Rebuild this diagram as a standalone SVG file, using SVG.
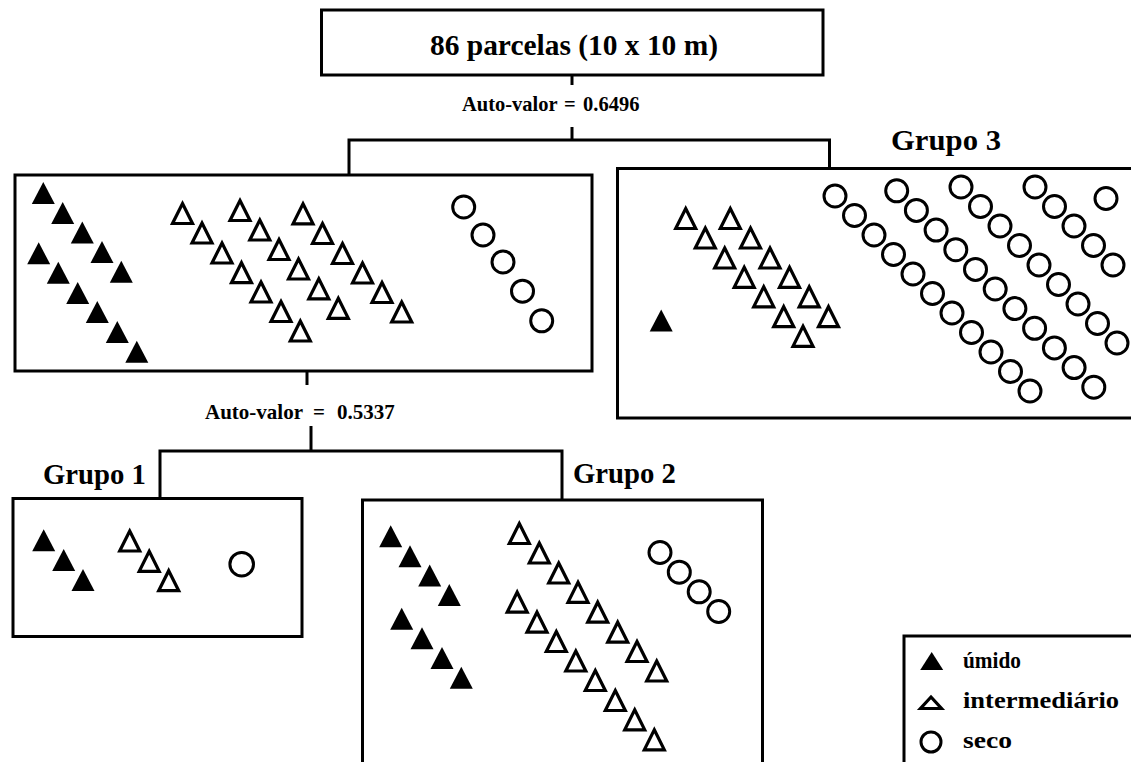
<svg xmlns="http://www.w3.org/2000/svg" xmlns:xlink="http://www.w3.org/1999/xlink" width="1131" height="762" viewBox="0 0 1131 762">
<style>
.box{fill:#fff;stroke:#000;stroke-width:3}
.ln{stroke:#000;stroke-width:3;fill:none}
.ft{fill:#000}
.ot{fill:none;stroke:#000;stroke-width:3.2;stroke-linejoin:miter}
.c{fill:none;stroke:#000;stroke-width:3}
.t{font-family:"Liberation Serif","Times New Roman",serif;font-weight:bold;fill:#000}
</style>
<defs>
<polygon id="ft" class="ft" points="0,-11 11.5,11 -11.5,11"/>
<polygon id="ot" class="ot" points="0,-9 10,11 -10,11"/>
<circle id="c" class="c" r="11"/>
</defs>
<rect width="1131" height="762" fill="#fff"/>
<g id="connectors">
<line class="ln" x1="572" y1="75" x2="572" y2="85"/>
<line class="ln" x1="572" y1="127" x2="572" y2="140"/>
<polyline class="ln" points="349,175 349,140 829.5,140 829.5,168"/>
<line class="ln" x1="307" y1="371" x2="307" y2="385"/>
<line class="ln" x1="311" y1="426" x2="311" y2="451"/>
<polyline class="ln" points="160,498.5 160,451 562,451 562,500"/>
<text class="t" font-size="20.5" y="111"><tspan x="462">Auto-valor</tspan><tspan x="564">=</tspan><tspan x="583">0.6496</tspan></text>
<text class="t" font-size="21" y="419"><tspan x="205">Auto-valor</tspan><tspan x="313">=</tspan><tspan x="337">0.5337</tspan></text>
</g>
<g id="root">
<rect class="box" x="321.5" y="10" width="501.5" height="65"/>
<text class="t" font-size="29.5" x="574" y="55" text-anchor="middle" textLength="288" lengthAdjust="spacingAndGlyphs">86 parcelas (10 x 10 m)</text>
</g>
<g id="grupo12">
<rect class="box" x="15" y="175" width="577" height="196"/>
<use href="#ft" x="43.3" y="193"/><use href="#ft" x="62.7" y="213"/><use href="#ft" x="82.3" y="232.5"/><use href="#ft" x="102" y="252"/><use href="#ft" x="121.3" y="271.7"/>
<use href="#ft" x="38.7" y="253.3"/><use href="#ft" x="58.3" y="272.8"/><use href="#ft" x="77.7" y="293"/><use href="#ft" x="97.3" y="312"/><use href="#ft" x="117.3" y="332"/><use href="#ft" x="136.8" y="351.7"/>
<use href="#ot" x="182.5" y="212.5"/><use href="#ot" x="202" y="232"/><use href="#ot" x="222" y="252"/><use href="#ot" x="241.5" y="271.7"/><use href="#ot" x="261" y="291"/><use href="#ot" x="281" y="310.5"/><use href="#ot" x="300.3" y="330"/>
<use href="#ot" x="240" y="209.5"/><use href="#ot" x="259.8" y="229"/><use href="#ot" x="279" y="248.5"/><use href="#ot" x="298.5" y="268"/><use href="#ot" x="318.8" y="287.8"/><use href="#ot" x="338.3" y="307.3"/>
<use href="#ot" x="303" y="212.8"/><use href="#ot" x="322.5" y="232.5"/><use href="#ot" x="342.5" y="252.5"/><use href="#ot" x="362.5" y="272"/><use href="#ot" x="382" y="291.5"/><use href="#ot" x="401.7" y="311"/>
<use href="#c" x="463.7" y="207"/><use href="#c" x="483" y="235"/><use href="#c" x="503" y="262"/><use href="#c" x="522.5" y="291.2"/><use href="#c" x="541.7" y="320.8"/>
</g>
<g id="grupo3">
<rect class="box" x="617.5" y="168.5" width="600" height="249.5"/>
<text class="t" font-size="28.7" x="891" y="150" textLength="110" lengthAdjust="spacingAndGlyphs">Grupo 3</text>
<use href="#ft" x="661.2" y="320.5"/>
<use href="#ot" x="685.7" y="217.5"/><use href="#ot" x="705.3" y="237"/><use href="#ot" x="724.7" y="257"/><use href="#ot" x="744.2" y="276.3"/><use href="#ot" x="763.7" y="295.8"/><use href="#ot" x="783.7" y="315.7"/><use href="#ot" x="803" y="335.3"/>
<use href="#ot" x="730.3" y="217.5"/><use href="#ot" x="750.5" y="237"/><use href="#ot" x="770" y="257"/><use href="#ot" x="789.5" y="276.3"/><use href="#ot" x="809.2" y="295.8"/><use href="#ot" x="828.5" y="315.7"/>
<use href="#c" x="835" y="196"/><use href="#c" x="854.5" y="215.5"/><use href="#c" x="874" y="235"/><use href="#c" x="893.5" y="254.5"/><use href="#c" x="913" y="274"/><use href="#c" x="932.5" y="293.5"/><use href="#c" x="952" y="313"/><use href="#c" x="971.5" y="332.5"/><use href="#c" x="991" y="352"/><use href="#c" x="1010.5" y="371.5"/><use href="#c" x="1030" y="391"/>
<use href="#c" x="896.7" y="190.8"/><use href="#c" x="916.4" y="210.4"/><use href="#c" x="936.1" y="230.1"/><use href="#c" x="955.8" y="249.7"/><use href="#c" x="975.5" y="269.4"/><use href="#c" x="995.2" y="289"/><use href="#c" x="1014.9" y="308.6"/><use href="#c" x="1034.6" y="328.3"/><use href="#c" x="1054.4" y="347.9"/><use href="#c" x="1074.1" y="367.6"/><use href="#c" x="1093.8" y="387.2"/>
<use href="#c" x="961" y="187"/><use href="#c" x="980.5" y="206.5"/><use href="#c" x="1000" y="226"/><use href="#c" x="1019.5" y="245.5"/><use href="#c" x="1039" y="265"/><use href="#c" x="1058.5" y="284.5"/><use href="#c" x="1078" y="304"/><use href="#c" x="1097.5" y="323.5"/><use href="#c" x="1117" y="343"/>
<use href="#c" x="1035" y="187"/><use href="#c" x="1054.5" y="206.5"/><use href="#c" x="1074" y="226"/><use href="#c" x="1093.5" y="245.5"/><use href="#c" x="1113" y="265"/>
<use href="#c" x="1106" y="198.5"/>
</g>
<g id="grupo1">
<rect class="box" x="13" y="498.5" width="289" height="138"/>
<text class="t" font-size="28.7" x="43" y="484">Grupo 1</text>
<use href="#ft" x="43.7" y="540.2"/><use href="#ft" x="63.7" y="560"/><use href="#ft" x="83" y="580"/>
<use href="#ot" x="129.7" y="540"/><use href="#ot" x="149.2" y="560.3"/><use href="#ot" x="168.7" y="579.7"/>
<circle class="c" cx="241.7" cy="564.2" r="11.8"/>
</g>
<g id="grupo2">
<rect class="box" x="362.5" y="500" width="400" height="300"/>
<text class="t" font-size="28.7" x="573" y="483">Grupo 2</text>
<use href="#ft" x="390.7" y="536.2"/><use href="#ft" x="410" y="556.2"/><use href="#ft" x="429.7" y="575.5"/><use href="#ft" x="449.3" y="595"/>
<use href="#ft" x="401.7" y="618.7"/><use href="#ft" x="422" y="638.3"/><use href="#ft" x="442" y="658"/><use href="#ft" x="461.3" y="677.8"/>
<use href="#ot" x="519.3" y="532.5"/><use href="#ot" x="539.3" y="552"/><use href="#ot" x="558.7" y="572"/><use href="#ot" x="578" y="591.3"/><use href="#ot" x="597.7" y="611.2"/><use href="#ot" x="617.7" y="631.2"/><use href="#ot" x="637" y="650.5"/><use href="#ot" x="656.7" y="670"/>
<use href="#ot" x="517.2" y="601.2"/><use href="#ot" x="537" y="621.2"/><use href="#ot" x="556.3" y="640.5"/><use href="#ot" x="575.8" y="660"/><use href="#ot" x="595.3" y="679.5"/><use href="#ot" x="615.3" y="699.5"/><use href="#ot" x="634.7" y="718.8"/><use href="#ot" x="654.3" y="738.8"/>
<use href="#c" x="660" y="552.5"/><use href="#c" x="679.3" y="572.2"/><use href="#c" x="699.2" y="591.8"/><use href="#c" x="718.7" y="611.5"/>
</g>
<g id="legend">
<rect class="box" x="904" y="636" width="300" height="200"/>
<polygon class="ft" points="931.7,652 943.2,670 920.2,670"/>
<polygon class="ot" points="931,697 941.5,708.5 920.5,708.5"/>
<circle class="c" cx="931" cy="742" r="10"/>
<text class="t" font-size="23" x="963" y="668" textLength="58" lengthAdjust="spacingAndGlyphs">úmido</text>
<text class="t" font-size="23" x="963" y="708" textLength="156" lengthAdjust="spacingAndGlyphs">intermediário</text>
<text class="t" font-size="23" x="963" y="748" textLength="49" lengthAdjust="spacingAndGlyphs">seco</text>
</g>
</svg>
